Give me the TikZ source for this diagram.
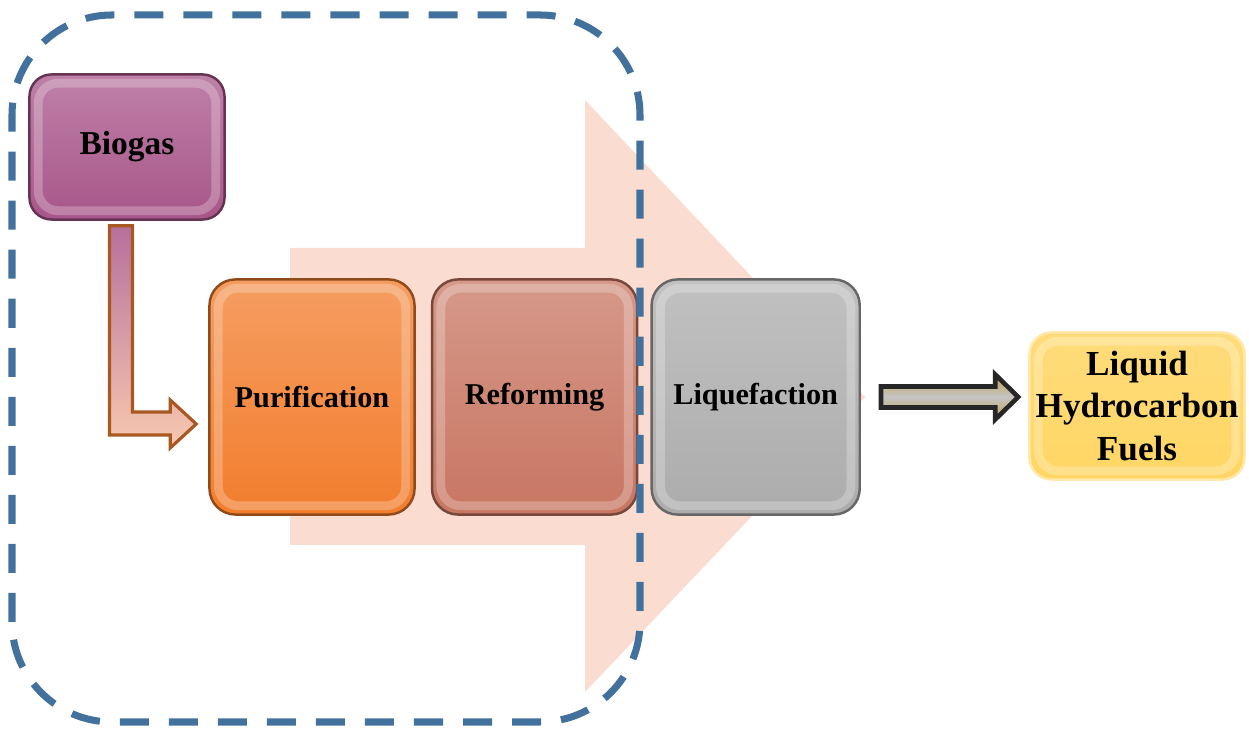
\documentclass[tikz,border=0pt]{standalone}
\usepackage{fontspec}
\setmainfont{Liberation Serif}
\usepackage{xcolor}
\usepackage{tikz}
\usetikzlibrary{positioning, calc}
\definecolor{bgpurple}{RGB}{168,86,138}
\definecolor{bgorange}{RGB}{242,125,45}
\definecolor{bgbrown}{RGB}{200,118,98}
\definecolor{bggray}{RGB}{172,172,172}
\definecolor{bgyellow}{RGB}{255,214,100}
\definecolor{bgpeach}{RGB}{250,220,208}
\definecolor{bgblue}{RGB}{65,113,156}
\tikzset{
  stagebox/.style={draw=#1!60!black, line width=0.7pt, rounded corners=0.26cm,
    top color=#1!75!white, bottom color=#1, minimum width=2.05cm, minimum height=2.35cm,
    inner sep=1pt, font=\bfseries\fontsize{8.6}{10}\selectfont,
    path picture={\draw[white, opacity=0.25, line width=2.5pt, rounded corners=0.2cm]
      ([shift={(2.5pt,-2.5pt)}]path picture bounding box.north west) rectangle
      ([shift={(-2.5pt,2.5pt)}]path picture bounding box.south east);}},
  blockarrow/.style={line width=0.9pt, line join=miter},
}

\begin{document}
\begin{tikzpicture}[x=0.01cm,y=0.01cm]
\useasboundingbox (0,0) rectangle (1249,734);
% Big process arrow
\fill[bgpeach] (290,189) -- (290,486) -- (585,486) -- (585,634) -- (865,337)
  -- (585,42) -- (585,189) -- cycle;
% Process stages
\node[stagebox=bgorange] (purif) at (312,337) {Purification};
\node[stagebox=bgbrown, right=0.15cm of purif] (reform) {Reforming};
\node[stagebox=bggray, right=0.12cm of reform, minimum width=2.08cm] (liquef) {Liquefaction};
% Feed and product
\node[stagebox=bgpurple, minimum width=1.95cm, minimum height=1.45cm, rounded corners=0.22cm,
  font=\bfseries\fontsize{9.5}{11}\selectfont] (biogas) at (127,587) {Biogas};
\node[stagebox=bgyellow, draw=bgyellow!55!white, top color=bgyellow!85!white, minimum width=2.15cm,
  minimum height=1.47cm, rounded corners=0.22cm, align=center, font=\bfseries\fontsize{10}{12}\selectfont]
  (fuels) at (1137,328) {Liquid\\Hydrocarbon\\Fuels};
% Biogas into purification
\coordinate (elbowtop) at ($(biogas.south)+(-6,-5)$);
\coordinate (elbowtip) at ($(purif.west)+(-12,-27)$);
\coordinate (elbowknee) at (elbowtop |- elbowtip);
\draw[blockarrow, draw=bgorange!70!black, top color=bgpurple!85!white, bottom color=bgpeach!80!bgorange]
  ($(elbowtop)+(-11.5,0)$) -- ($(elbowtop)+(11.5,0)$) -- ($(elbowknee)+(11.5,12)$)
  -- ($(elbowtip)+(-26,12)$) -- ($(elbowtip)+(-26,24)$) -- (elbowtip)
  -- ($(elbowtip)+(-26,-24)$) -- ($(elbowtip)+(-26,-11)$) -- ($(elbowknee)+(-11.5,-11)$) -- cycle;
% Liquefaction to fuels
\coordinate (outstart) at ($(liquef.east)+(20,0)$);
\coordinate (outtip) at ($(outstart -| fuels.west)+(-10,0)$);
\draw[blockarrow, draw=black!85, line width=1.3pt, top color=bgyellow!75!black,
  bottom color=bgyellow!75!black, middle color=bggray!70!white]
  ($(outstart)+(0,10.5)$) -- ($(outtip)+(-23,10.5)$) -- ($(outtip)+(-23,22.5)$) -- (outtip)
  -- ($(outtip)+(-23,-22.5)$) -- ($(outtip)+(-23,-10.5)$) -- ($(outstart)+(0,-10.5)$) -- cycle;
% Dashed frame
\draw[bgblue, line width=2pt, dash pattern=on 0.29cm off 0.2cm, rounded corners=1cm]
  (12,12) rectangle (640,719);
\end{tikzpicture}
\end{document}
